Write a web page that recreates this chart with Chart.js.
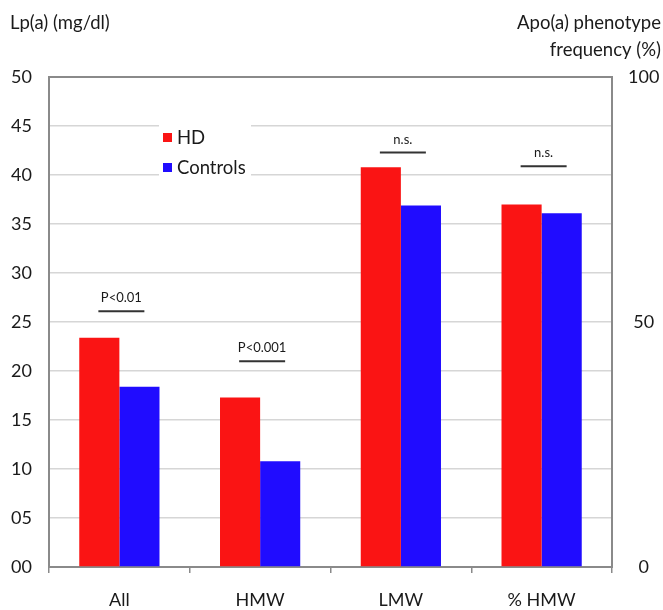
<!DOCTYPE html>
<html>
<head>
<meta charset="utf-8">
<script src="https://cdn.jsdelivr.net/npm/chart.js@4"></script>
<style>
  html, body { margin: 0; padding: 0; background: #fff; }
  #wrap { width: 663px; height: 610px; }
</style>
</head>
<body>
<div id="wrap"><canvas id="c" width="663" height="610"></canvas></div>
<script>
const categories = ['All', 'HMW', 'LMW', '% HMW'];
const hdValues = [23.4, 17.3, 40.8, 37.0];
const controlValues = [18.4, 10.8, 36.9, 36.1];
const sigLabels = ['P<0.01', 'P<0.001', 'n.s.', 'n.s.'];
const sigLevels = [26.1, 21.0, 42.3, 40.9];
const leftTicks = [0, 5, 10, 15, 20, 25, 30, 35, 40, 45, 50];
const rightTicks = [0, 50, 100];

const FONT = 'Lato, "Open Sans", sans-serif';
const TXT = '#1a1a1a';
const BORDER = '#8a8a8a';
const GRID = '#d6d6d6';

// titles, legend and significance marks
const extras = {
  id: 'extras',
  afterDraw(chart) {
    const ctx = chart.ctx;
    const x = chart.scales.x, y = chart.scales.y;
    ctx.save();
    ctx.fillStyle = TXT;
    ctx.font = '18.5px ' + FONT;
    ctx.textBaseline = 'middle';
    ctx.textAlign = 'left';
    ctx.fillText('Lp(a) (mg/dl)', 10, 23);
    ctx.textAlign = 'right';
    ctx.fillText('Apo(a) phenotype', 661, 23);
    ctx.fillText('frequency (%)', 661, 50);

    // legend
    ctx.fillStyle = '#fff';
    ctx.fillRect(159, 119, 92, 62);
    const items = [['HD', '#fa1414', 138], ['Controls', '#200cff', 168]];
    ctx.textAlign = 'left';
    items.forEach(([lab, col, yy]) => {
      ctx.fillStyle = col;
      ctx.fillRect(163, yy - 5, 9, 9);
      ctx.fillStyle = TXT;
      ctx.fillText(lab, 177, yy);
    });

    // significance
    ctx.font = '13px ' + FONT;
    ctx.textAlign = 'center';
    ctx.strokeStyle = '#333';
    ctx.lineWidth = 2;
    sigLabels.forEach((lab, i) => {
      const cx = x.getPixelForValue(i) + 2;
      const ly = y.getPixelForValue(sigLevels[i]);
      ctx.beginPath();
      ctx.moveTo(cx - 23, ly);
      ctx.lineTo(cx + 23, ly);
      ctx.stroke();
      ctx.fillStyle = TXT;
      ctx.fillText(lab, cx, ly - 13);
    });
    ctx.restore();
  }
};

new Chart(document.getElementById('c'), {
  type: 'bar',
  data: {
    labels: categories,
    datasets: [
      { label: 'HD', data: hdValues, backgroundColor: '#fa1414', yAxisID: 'y' },
      { label: 'Controls', data: controlValues, backgroundColor: '#200cff', yAxisID: 'y' }
    ]
  },
  options: {
    responsive: false,
    animation: false,
    layout: { padding: { top: 77, left: 0, right: 0, bottom: 0 } },
    datasets: { bar: { barPercentage: 1, categoryPercentage: 0.57 } },
    plugins: { legend: { display: false }, tooltip: { enabled: false } },
    scales: {
      x: {
        grid: { drawOnChartArea: false, color: BORDER, tickLength: 6, lineWidth: 1.5 },
        border: { color: BORDER, width: 2 },
        ticks: { color: TXT, font: { family: FONT, size: 18 }, padding: 16 },
        afterFit(s) { s.height = 43; }
      },
      y: {
        position: 'left',
        min: 0, max: 50,
        afterBuildTicks(s) { s.ticks = leftTicks.map(v => ({ value: v })); },
        grid: {
          drawTicks: false,
          color: c => c.tick && c.tick.value === 50 ? BORDER : GRID,
          lineWidth: c => c.tick && c.tick.value === 50 ? 2 : 1.5
        },
        border: { color: BORDER, width: 2 },
        ticks: {
          color: TXT, font: { family: FONT, size: 18 }, padding: 17,
          callback: v => String(v).padStart(2, '0')
        },
        afterFit(s) { s.width = 49; }
      },
      y1: {
        position: 'right',
        min: 0, max: 100,
        afterBuildTicks(s) { s.ticks = rightTicks.map(v => ({ value: v })); },
        grid: { drawOnChartArea: false, drawTicks: false },
        border: { color: BORDER, width: 2 },
        ticks: {
          color: TXT, font: { family: FONT, size: 18 }, padding: 16,
          crossAlign: 'center',
          callback: v => v
        },
        afterFit(s) { s.width = 51; }
      }
    }
  },
  plugins: [extras]
});
</script>
</body>
</html>
